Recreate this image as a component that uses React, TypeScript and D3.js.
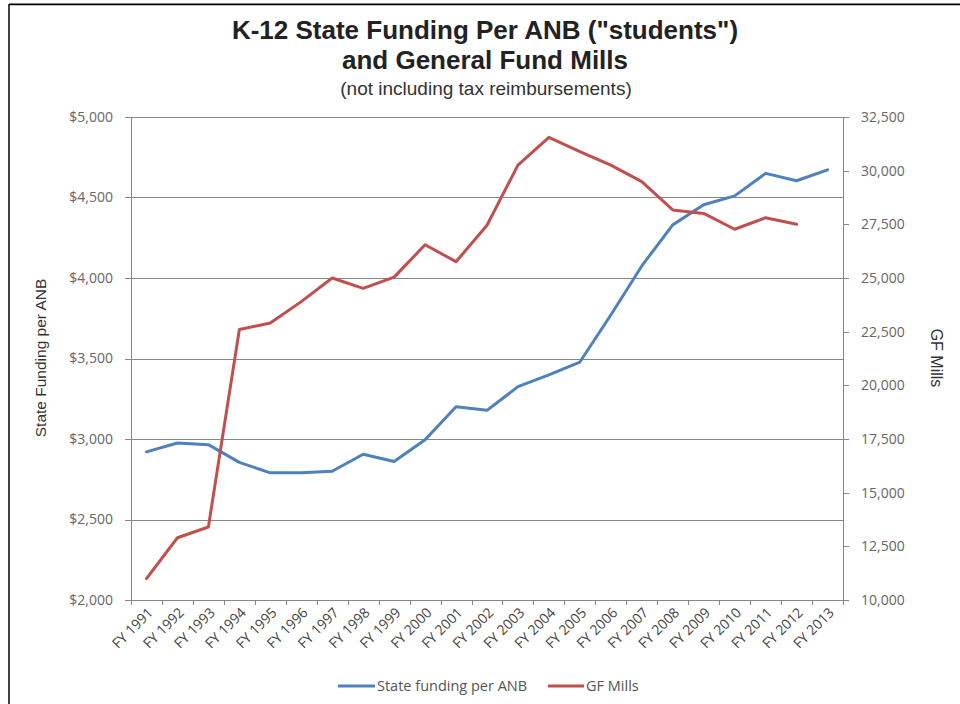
import React from "react";
import * as d3 from "d3";

const categories = ["FY 1991","FY 1992","FY 1993","FY 1994","FY 1995","FY 1996","FY 1997","FY 1998","FY 1999","FY 2000","FY 2001","FY 2002","FY 2003","FY 2004","FY 2005","FY 2006","FY 2007","FY 2008","FY 2009","FY 2010","FY 2011","FY 2012","FY 2013"];
const stateFunding = [2920, 2975, 2965, 2855, 2790, 2790, 2800, 2905, 2860, 2995, 3200, 3178, 3325, 3398, 3478, 3770, 4075, 4330, 4455, 4510, 4650, 4604, 4672];
const gfMills: (number | null)[] = [11000, 12900, 13400, 22600, 22900, 23900, 25000, 24520, 25040, 26550, 25760, 27460, 30260, 31550, 30890, 30260, 29490, 28170, 28010, 27270, 27810, 27500, null];
const leftTicks = [2000, 2500, 3000, 3500, 4000, 4500, 5000];
const rightTicks = [10000, 12500, 15000, 17500, 20000, 22500, 25000, 27500, 30000, 32500];

const BLUE = "#4F81BD";
const RED = "#C0504D";
const GRID = "#878787";
const TICKFONT = "'Open Sans', 'Liberation Sans', sans-serif";
const ARIAL = "'Liberation Sans', Arial, sans-serif";

export default function App() {
  const left = 131, right = 843, top = 117, bottom = 600;
  const x = d3.scaleBand<string>().domain(categories).range([left, right]);
  const yL = d3.scaleLinear().domain([2000, 5000]).range([bottom, top]);
  const yR = d3.scaleLinear().domain([10000, 32500]).range([bottom, top]);
  const cx = (c: string) => (x(c) as number) + x.bandwidth() / 2;

  const blueLine = d3.line<number>()
    .x((_, i) => cx(categories[i]))
    .y((d) => yL(d))(stateFunding) as string;
  const redLine = d3.line<number | null>()
    .defined((d) => d !== null)
    .x((_, i) => cx(categories[i]))
    .y((d) => yR(d as number))(gfMills) as string;

  const fmtL = (v: number) => "$" + d3.format(",")(v);
  const fmtR = d3.format(",");
  const bounds = categories.map((c) => x(c) as number).concat([right]);

  return (
    <svg width={960} height={704} style={{ position: "absolute", left: 0, top: 0, background: "#fff" }}>
      {/* frame */}
      <line x1={9} x2={960} y1={3.5} y2={3.5} stroke="#aaa" strokeWidth={1} />
      <line x1={9} x2={960} y1={4.5} y2={4.5} stroke="#000" strokeWidth={1.5} />
      <line x1={9} x2={9} y1={4} y2={704} stroke="#000" strokeWidth={1.5} />

      {/* titles */}
      <text x={485} y={39} textAnchor="middle" fontFamily={ARIAL} fontWeight="bold" fontSize={26} fill="#222">K-12 State Funding Per ANB ("students")</text>
      <text x={485} y={69} textAnchor="middle" fontFamily={ARIAL} fontWeight="bold" fontSize={26} fill="#222">and General Fund Mills</text>
      <text x={486} y={95} textAnchor="middle" fontFamily={ARIAL} fontSize={19} fill="#333">(not including tax reimbursements)</text>

      {/* gridlines */}
      {leftTicks.map((t) => (
        <line key={"g" + t} x1={left} x2={right} y1={Math.round(yL(t)) + 0.5} y2={Math.round(yL(t)) + 0.5} stroke={GRID} strokeWidth={1} />
      ))}
      {/* axes */}
      <line x1={left + 0.5} x2={left + 0.5} y1={top} y2={bottom + 0.5} stroke={GRID} />
      <line x1={right + 0.5} x2={right + 0.5} y1={top} y2={bottom + 0.5} stroke={GRID} />
      {leftTicks.map((t) => (
        <g key={"l" + t}>
          <line x1={left - 6} x2={left} y1={Math.round(yL(t)) + 0.5} y2={Math.round(yL(t)) + 0.5} stroke={GRID} />
          <text x={113} y={yL(t)} dy="0.35em" textAnchor="end" fontFamily={TICKFONT} fontSize={14} fill="#666">{fmtL(t)}</text>
        </g>
      ))}
      {rightTicks.map((t) => (
        <g key={"r" + t}>
          <line x1={right} x2={right + 6} y1={Math.round(yR(t)) + 0.5} y2={Math.round(yR(t)) + 0.5} stroke={GRID} />
          <text x={861} y={yR(t)} dy="0.35em" textAnchor="start" fontFamily={TICKFONT} fontSize={14} fill="#666">{fmtR(t)}</text>
        </g>
      ))}
      {bounds.map((b, i) => (
        <line key={"xt" + i} x1={Math.round(b) + 0.5} x2={Math.round(b) + 0.5} y1={bottom} y2={bottom + 5} stroke={GRID} />
      ))}
      {categories.map((c) => (
        <text key={c} transform={`translate(${cx(c) + 4},${bottom + 10}) rotate(-45)`} textAnchor="end" dy="0.35em" fontFamily={TICKFONT} fontSize={14} fill="#444">{c}</text>
      ))}

      {/* axis titles */}
      <text transform={`translate(46,358) rotate(-90)`} textAnchor="middle" fontFamily={ARIAL} fontSize={15.5} fill="#333">State Funding per ANB</text>
      <text transform={`translate(931,358) rotate(90)`} textAnchor="middle" fontFamily={ARIAL} fontSize={16} fill="#333">GF Mills</text>

      {/* series */}
      <path d={blueLine} fill="none" stroke={BLUE} strokeWidth={3} strokeLinejoin="round" strokeLinecap="round" />
      <path d={redLine} fill="none" stroke={RED} strokeWidth={3} strokeLinejoin="round" strokeLinecap="round" />

      {/* legend */}
      <line x1={338} x2={375} y1={686} y2={686} stroke={BLUE} strokeWidth={3} />
      <text x={377} y={686} dy="0.35em" fontFamily={TICKFONT} fontSize={14.5} fill="#555">State funding per ANB</text>
      <line x1={548} x2={584} y1={686} y2={686} stroke={RED} strokeWidth={3} />
      <text x={586} y={686} dy="0.35em" fontFamily={TICKFONT} fontSize={14.5} fill="#555">GF Mills</text>
    </svg>
  );
}
